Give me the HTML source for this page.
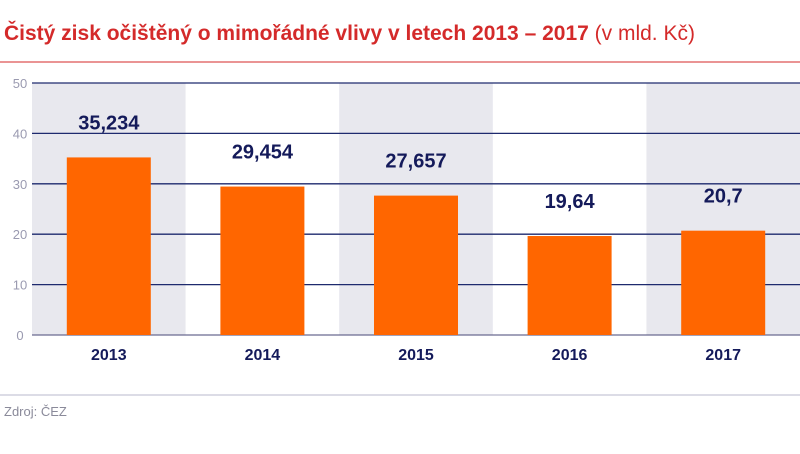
<!DOCTYPE html>
<html><head><meta charset="utf-8"><style>
body{margin:0;width:800px;height:449px;background:#fff;overflow:hidden;font-family:"Liberation Sans",sans-serif;}
</style></head><body>
<svg width="800" height="449">
<text x="4" y="40" font-size="21" font-weight="bold" fill="#d42a2a">Čistý zisk očištěný o mimořádné vlivy v letech 2013 – 2017 <tspan font-weight="normal">(v mld. Kč)</tspan></text>
<line x1="0" y1="62" x2="800" y2="62" stroke="#d42a2a" stroke-width="1"/>
<g id="plot"></g>
<line x1="0" y1="395" x2="800" y2="395" stroke="#b8b8cc" stroke-width="1"/>
<text x="4" y="416" font-size="13" fill="#8a8a9a">Zdroj: ČEZ</text>
</svg>
<script>
const categories=["2013","2014","2015","2016","2017"];
const values=[35.234,29.454,27.657,19.64,20.7];
const labels=["35,234","29,454","27,657","19,64","20,7"];
const ticks=[0,10,20,30,40,50];
const ns="http://www.w3.org/2000/svg";
const g=document.getElementById("plot");
const L=32,R=800,T=83,B=335,maxV=50;
const step=(R-L)/categories.length;
const y=v=>B-(v/maxV)*(B-T);
const xc=i=>L+step*i+step/2;
function mk(t,a){const e=document.createElementNS(ns,t);for(const k in a)e.setAttribute(k,a[k]);g.appendChild(e);return e;}
categories.forEach((c,i)=>{if(i%2===0){const r=mk("rect",{x:L+step*i,y:T,width:step,height:B-T,fill:"#e8e8ee"});

}});
ticks.forEach(t=>{const l=mk("line",{x1:L,x2:R,y1:y(t),y2:y(t),stroke:t===0?"#6a6a90":"#1e2a6e","stroke-width":1.3});


const tx=mk("text",{x:20,y:y(t)+5,"font-size":13,fill:"#9a9ab0","text-anchor":"middle"});tx.textContent=t;

});
categories.forEach((c,i)=>{const bw=84;
const r=mk("rect",{x:xc(i)-bw/2,y:y(values[i]),width:bw,height:B-y(values[i]),fill:"#ff6600"});


const v=mk("text",{x:xc(i),y:y(values[i])-28,"font-size":20,"font-weight":"bold",fill:"#141a5a","text-anchor":"middle"});v.textContent=labels[i];


const xl=mk("text",{x:xc(i),y:B+25,"font-size":16,"font-weight":"bold",fill:"#141a5a","text-anchor":"middle"});xl.textContent=c;

});
</script>
</body></html>
